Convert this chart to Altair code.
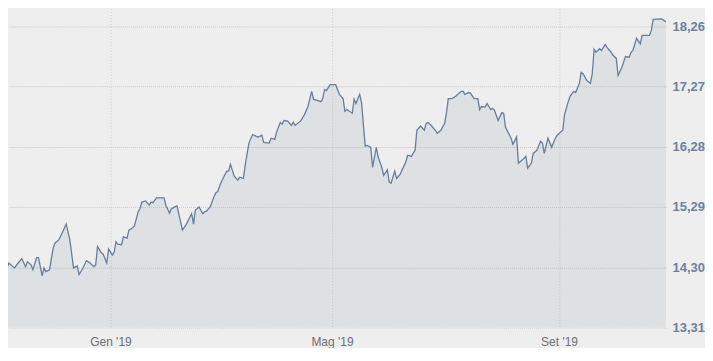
import altair as alt
import pandas as pd

start_date = "2018-11-02"
day_offsets = [
    0, 2, 3, 4, 5, 8, 10, 12, 14, 15,
    17, 18, 20, 21, 23, 24, 25, 27, 29, 30,
    32, 34, 36, 37, 38, 40, 42, 43, 45, 47,
    49, 51, 52, 53, 55, 56, 58, 59, 61, 62,
    63, 64, 66, 67, 69, 70, 72, 73, 75, 76,
    77, 79, 81, 82, 83, 85, 86, 89, 90, 92,
    93, 96, 97, 99, 101, 104, 105, 106, 108, 110,
    111, 112, 114, 116, 117, 118, 120, 123, 124, 125,
    127, 129, 130, 132, 133, 135, 137, 139, 140, 142,
    143, 146, 147, 149, 150, 152, 153, 154, 156, 158,
    159, 160, 163, 165, 167, 169, 170, 172, 174, 175,
    176, 177, 179, 182, 184, 186, 187, 188, 191, 192,
    193, 195, 196, 198, 199, 201, 202, 204, 205, 207,
    208, 210, 211, 212, 214, 215, 217, 218, 220, 221,
    223, 225, 226, 228, 230, 231, 232, 234, 236, 237,
    239, 241, 242, 243, 245, 247, 250, 251, 252, 254,
    255, 257, 259, 260, 261, 263, 264, 266, 267, 268,
    270, 272, 273, 274, 277, 278, 280, 281, 283, 285,
    286, 288, 289, 291, 293, 294, 295, 297, 299, 301,
    302, 305, 306, 308, 309, 311, 312, 314, 315, 316,
    318, 320, 321, 322, 323, 325, 326, 328, 329, 331,
    332, 334, 335, 337, 339, 341, 342, 343, 345, 347,
    348, 350, 352, 353, 354, 355, 358, 359, 361,
]
values = [
    14.18, 14.16, 14.28, 14.29, 14.37, 14.29, 14.37, 14.44, 14.31, 14.39,
    14.34, 14.26, 14.46, 14.46, 14.16, 14.29, 14.23, 14.26, 14.62, 14.70,
    14.75, 14.87, 15.01, 14.88, 14.75, 14.29, 14.32, 14.18, 14.28, 14.41,
    14.37, 14.31, 14.34, 14.64, 14.54, 14.52, 14.37, 14.60, 14.50, 14.55,
    14.72, 14.68, 14.67, 14.80, 14.78, 14.91, 14.95, 14.98, 15.21, 15.26,
    15.37, 15.39, 15.32, 15.37, 15.36, 15.44, 15.44, 15.44, 15.32, 15.19,
    15.26, 15.31, 15.18, 14.91, 15.00, 15.18, 15.01, 15.24, 15.29, 15.18,
    15.21, 15.22, 15.29, 15.45, 15.52, 15.54, 15.70, 15.88, 15.88, 15.99,
    15.80, 15.73, 15.78, 15.76, 15.98, 16.34, 16.48, 16.45, 16.44, 16.47,
    16.35, 16.34, 16.42, 16.40, 16.52, 16.68, 16.65, 16.71, 16.70, 16.63,
    16.68, 16.63, 16.70, 16.80, 16.94, 17.19, 17.06, 17.04, 17.02, 17.07,
    17.22, 17.20, 17.30, 17.30, 17.14, 17.07, 16.86, 16.89, 16.83, 17.06,
    16.99, 17.14, 17.01, 16.29, 16.30, 16.27, 15.94, 16.27, 16.11, 15.94,
    15.81, 15.90, 15.70, 15.68, 15.88, 15.76, 15.83, 15.90, 16.03, 16.14,
    16.12, 16.22, 16.55, 16.62, 16.55, 16.66, 16.68, 16.62, 16.55, 16.50,
    16.55, 16.66, 16.83, 17.07, 17.07, 17.11, 17.19, 17.19, 17.14, 17.17,
    17.16, 17.07, 17.07, 16.89, 16.94, 16.93, 16.99, 16.89, 16.91, 16.88,
    16.71, 16.84, 16.83, 16.60, 16.42, 16.32, 16.44, 16.01, 16.06, 16.12,
    15.93, 16.01, 16.17, 16.22, 16.37, 16.34, 16.17, 16.42, 16.27, 16.42,
    16.47, 16.55, 16.81, 17.02, 17.11, 17.19, 17.17, 17.32, 17.50, 17.48,
    17.37, 17.32, 17.48, 17.88, 17.83, 17.89, 17.86, 17.96, 17.91, 17.84,
    17.79, 17.73, 17.45, 17.58, 17.76, 17.75, 17.83, 17.86, 18.06, 17.97,
    18.11, 18.11, 18.11, 18.19, 18.37, 18.37, 18.38, 18.37, 18.33,
]
y_ticks = [13.31, 14.30, 15.29, 16.28, 17.27, 18.26]
y_domain = [13.31, 18.55]
month_names = ["Gen", "Feb", "Mar", "Apr", "Mag", "Giu",
               "Lug", "Ago", "Set", "Ott", "Nov", "Dic"]
x_tick_dates = [(2019, 1, 1), (2019, 5, 1), (2019, 9, 1)]

dates = pd.Timestamp(start_date) + pd.to_timedelta(day_offsets, unit="D")
df = pd.DataFrame({"date": dates, "value": values})

months_js = "[" + ",".join("'%s'" % m for m in month_names) + "]"
x_label_expr = months_js + "[month(datum.value)] + \" '\" + timeFormat(datum.value, '%y')"

x_enc = alt.X(
    "date:T",
    scale=alt.Scale(
        domain=[alt.DateTime(year=2018, month=11, date=6, hours=12),
                alt.DateTime(year=2019, month=10, date=29)],
        nice=False,
    ),
    axis=alt.Axis(
        title=None,
        values=[alt.DateTime(year=y, month=m, date=d) for (y, m, d) in x_tick_dates],
        labelExpr=x_label_expr,
        ticks=False,
        domain=False,
        grid=True,
        gridColor="#cdcdcd",
        gridDash=[1, 2],
        gridWidth=1,
        labelColor="#6e6e6e",
        labelFont="Liberation Sans",
        labelFontSize=12,
        labelPadding=9,
    ),
)
y_enc = alt.Y(
    "value:Q",
    scale=alt.Scale(domain=y_domain, nice=False, zero=False),
    axis=alt.Axis(
        title=None,
        orient="right",
        values=y_ticks,
        labelExpr="replace(format(datum.value, '.2f'), '.', ',')",
        ticks=False,
        domain=False,
        grid=True,
        gridColor="#c8c8c8",
        gridDash=[1, 1],
        gridWidth=1,
        labelColor="#6a82a2",
        labelFont="Liberation Sans",
        labelFontSize=13,
        labelFontWeight="bold",
        labelPadding=6,
        labelBaseline="middle",
    ),
)

base = alt.Chart(df)
area = base.mark_area(color="#5d7694", fillOpacity=0.1, interpolate="linear", clip=True).encode(
    x=x_enc, y=y_enc, y2=alt.datum(y_domain[0])
)
line = base.mark_line(color="#667d9b", strokeWidth=1.3, interpolate="linear", clip=True).encode(
    x="date:T", y="value:Q"
)

chart = (
    alt.layer(area, line)
    .properties(width=660, height=320, background="#eeeeee", padding=0)
    .configure_view(stroke="transparent")
)

chart.save("out.html", embed_options={"renderer": "svg", "actions": False})
